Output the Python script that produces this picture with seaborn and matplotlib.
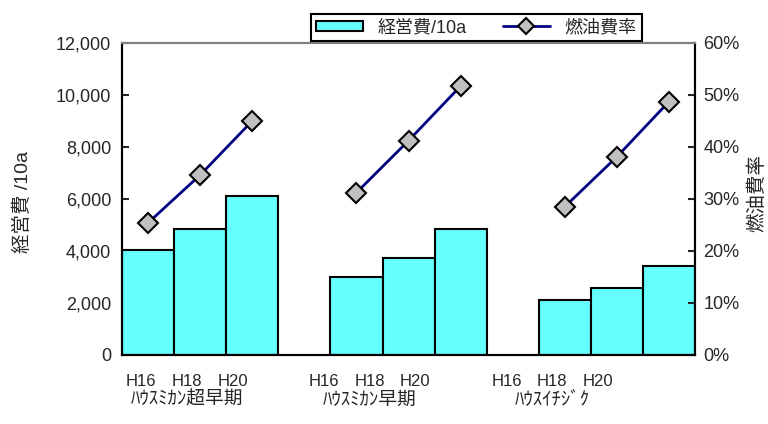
# -*- coding: utf-8 -*-
import numpy as np
import pandas as pd
import matplotlib.pyplot as plt
from matplotlib.patches import Patch
from matplotlib.lines import Line2D
from matplotlib.ticker import FuncFormatter, PercentFormatter
import seaborn as sns

sns.set_style("white")
plt.rcParams['font.family'] = ['Liberation Sans', 'Noto Sans CJK JP', 'DejaVu Sans']
plt.rcParams['axes.unicode_minus'] = False

# データ
groups = ['ﾊｳｽﾐｶﾝ超早期', 'ﾊｳｽﾐｶﾝ早期', 'ﾊｳｽｲﾁｼﾞｸ']
years = ['H16', 'H18', 'H20']
cost = [4050, 4850, 6100,
        3000, 3730, 4850,
        2100, 2580, 3420]          # 経営費/10a
fuel_rate = [0.254, 0.346, 0.450,
             0.312, 0.412, 0.517,
             0.285, 0.381, 0.487]  # 燃油費率

# 各グループの間に空きスロットを入れる
pos = [g * 4 + i for g in range(len(groups)) for i in range(len(years))]
df = pd.DataFrame({
    'pos': pos,
    'group': [g for g in groups for _ in years],
    'year': years * len(groups),
    'cost': cost,
    'rate': fuel_rate,
})

fig = plt.figure(figsize=(7.68, 4.24), dpi=100)
ax = fig.add_axes([0.159, 0.163, 0.746, 0.736])

sns.barplot(data=df, x='pos', y='cost', native_scale=True, width=1.0,
            color='#66FFFF', saturation=1, edgecolor='black', linewidth=1.5, ax=ax)
ax.set_xlim(-0.5, 10.5)
ax.set_ylim(0, 12000)
ax.set_yticks(np.arange(0, 12001, 2000))
ax.yaxis.set_major_formatter(FuncFormatter(lambda v, p: '{:,.0f}'.format(v)))
ax.set_xticks([])
ax.set_xlabel('')
ax.set_ylabel('経営費 /10a', fontsize=14)
ax.yaxis.set_label_coords(-0.157, 0.49)

ax2 = ax.twinx()
sns.lineplot(data=df, x='pos', y='rate', units='group', estimator=None,
             color='#000080', linewidth=2, marker='D', markersize=10,
             markerfacecolor='#C0C0C0', markeredgecolor='black', markeredgewidth=1.5,
             ax=ax2)
ax2.set_ylim(0, 0.6)
ax2.set_yticks(np.arange(0, 0.61, 0.1))
ax2.yaxis.set_major_formatter(PercentFormatter(1.0, decimals=0))
ax2.set_xlim(-0.5, 10.5)
ax2.set_ylabel('燃油費率', fontsize=14)
ax2.yaxis.set_label_coords(1.092, 0.52)

for a in (ax, ax2):
    a.tick_params(axis='y', direction='in', length=5, width=1.5, labelsize=13, pad=8)
    for s in ['left', 'right', 'bottom']:
        a.spines[s].set_color('black')
        a.spines[s].set_linewidth(1.5)
    a.spines['top'].set_color('#808080')
    a.spines['top'].set_linewidth(1.5)
ax.tick_params(axis='y', left=True, right=False)
ax2.tick_params(axis='y', right=True, left=False, pad=6)

# 横軸ラベル(元図と同じく少し左寄り)
for p, y, g in zip(df['pos'], df['year'], df['group']):
    ax.text(0.877 * p - 0.135, -0.085, y, transform=ax.get_xaxis_transform(),
            ha='center', va='center', fontsize=12)
for gi, g in enumerate(groups):
    ax.text(0.877 * (gi * 4 + 1) - 0.135, -0.145, g, transform=ax.get_xaxis_transform(),
            ha='center', va='center', fontsize=13.5)

handles = [Patch(facecolor='#66FFFF', edgecolor='black', linewidth=1.5),
           Line2D([], [], color='#000080', linewidth=2, marker='D', markersize=8,
                  markerfacecolor='#C0C0C0', markeredgecolor='black', markeredgewidth=1.5)]
leg = fig.legend(handles, ['経営費/10a', '燃油費率'], loc='center',
                 bbox_to_anchor=(0.62, 0.935), ncol=2, fontsize=13, frameon=True,
                 fancybox=False, edgecolor='black', framealpha=1,
                 handlelength=2.6, handleheight=0.5, columnspacing=2.0, borderpad=0.3)
leg.get_frame().set_linewidth(1.5)

fig.savefig('out.png', dpi=100)
